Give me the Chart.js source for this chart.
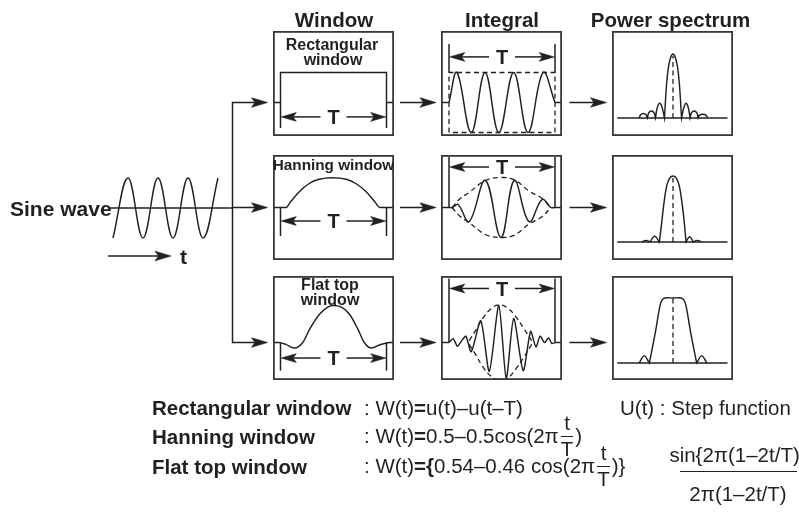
<!DOCTYPE html>
<html>
<head>
<meta charset="utf-8">
<title>Window functions</title>
<script src="https://cdn.jsdelivr.net/npm/chart.js@4.4.1/dist/chart.umd.min.js"></script>
<style>
  html, body { margin: 0; padding: 0; background: #ffffff; }
  #stage { position: relative; width: 799px; height: 521px; overflow: hidden; background: #ffffff;
           font-family: "Liberation Sans", Arial, Helvetica, sans-serif; color: #231f20; }
  #stage canvas { position: absolute; }
  .txt { position: absolute; white-space: nowrap; }
  .row { position: absolute; display: flex; align-items: center; white-space: nowrap; }
  .frac { display: inline-flex; flex-direction: column; align-items: center; margin: 0 2px; }
  .frac .bar { align-self: stretch; border-top: 1.3px solid #231f20; margin: 2px 0; }
</style>
</head>
<body>
<div id="stage"></div>
<script>
// ================= DATA =================
const columnTitles = ['Window', 'Integral', 'Power spectrum'];
const windowNames = [['Rectangular', 'window'], ['Hanning window'], ['Flat top', 'window']];
const inputName = 'Sine wave';
const timeName = 't';
const periodName = 'T';
const formulaNames = ['Rectangular window', 'Hanning window', 'Flat top window'];
const formulaRect = ': W(t)<b>=</b>u(t)–u(t–T)';
const stepNote = 'U(t) : Step function';
const formulaHann = [': W(t)<b>=</b>0.5–0.5cos(2π', ')'];
const formulaFlat = [': W(t)<b>={</b>0.54–0.46 cos(2π', ')}'];
const fracTime = ['t', 'T'];
const fracSinc = ['sin{2π(1–2t/T)}', '2π(1–2t/T)'];

// input sine wave: time in cycles, amplitude
const inputSineT = [0, 0.5, 1, 1.5, 2, 2.5, 3, 3.5];
const inputSineV = [-1, 1, -1, 1, -1, 1, -1, 1];

// window functions: t in units of T
const rectWinT = [-0.07, 0, 0, 1, 1, 1.07];
const rectWinV = [0, 0, 1, 1, 0, 0];
const hannWinT = [-0.07, 0.054, 0.095, 0.175, 0.27, 0.365, 0.49, 0.62, 0.71, 0.81, 0.89, 0.94, 1.07];
const hannWinV = [0, 0, 0.19, 0.52, 0.8, 0.94, 0.99, 0.94, 0.8, 0.52, 0.19, 0, 0];
const flatWinT = [-0.07, -0.02, 0.05, 0.13, 0.21, 0.275, 0.37, 0.45, 0.5, 0.57, 0.65, 0.73, 0.79, 0.86, 0.94, 1.03, 1.07];
const flatWinV = [0, 0, -0.05, -0.15, 0, 0.36, 0.77, 0.96, 1.0, 0.96, 0.77, 0.36, 0, -0.15, -0.06, 0, 0];

// windowed sine ("Integral") and envelopes
const rectIntT = [0, 0.075, 0.21, 0.34, 0.47, 0.61, 0.745, 0.887, 1];
const rectIntV = [0, 1, -1, 1, -1, 1, -1, 1, 0];
const rectEnvT = [0, 0, 1, 1, 0];
const rectEnvV = [-1, 1, 1, -1, -1];
const hannIntT = [0, 0.03, 0.085, 0.19, 0.343, 0.49, 0.616, 0.755, 0.88, 0.96, 1];
const hannIntV = [0, 0, 0.1, -0.47, 0.9, -1.0, 0.9, -0.47, 0.27, 0, 0];
const hannEnvT = [0.03, 0.1, 0.19, 0.343, 0.49, 0.616, 0.755, 0.88, 0.96];
const hannEnvUpper = [0, 0.28, 0.5, 0.9, 1.0, 0.92, 0.55, 0.3, 0];
const hannEnvLower = [0, -0.28, -0.5, -0.9, -1.0, -0.92, -0.55, -0.3, 0];
const flatIntT = [0, 0.04, 0.08, 0.12, 0.16, 0.21, 0.3, 0.38, 0.47, 0.54, 0.61, 0.7, 0.77, 0.82, 0.86, 0.9, 0.94, 0.97, 1];
const flatIntV = [0, 0.1, -0.1, 0.05, 0.17, -0.25, 0.59, -0.78, 1.0, -0.97, 0.65, -0.76, 0.3, -0.12, 0.17, 0.0, 0.12, -0.03, 0];
const flatEnvT = [0.19, 0.25, 0.32, 0.4, 0.47, 0.55, 0.63, 0.71, 0.78];
const flatEnvUpper = [0.05, 0.32, 0.66, 0.92, 1.02, 0.94, 0.7, 0.36, 0.05];
const flatEnvLower = [-0.05, -0.32, -0.66, -0.92, -1.0, -0.97, -0.72, -0.38, -0.05];

// power spectra: frequency in bins, relative power
const rectSpecF = [-3.75, -3.6, -3.3, -3.0, -2.85, -2.85, -2.7, -2.4, -2.1, -1.95, -1.95, -1.75, -1.475, -1.2, -0.95,
                   -0.95, -0.7, -0.5, -0.25, 0, 0.25, 0.5, 0.7, 0.95,
                   0.95, 1.2, 1.45, 1.7, 1.9, 1.9, 2.05, 2.35, 2.65, 2.8, 2.8, 2.95, 3.3, 3.65, 3.85];
const rectSpecP = [0, 0.05, 0.07, 0.05, 0, 0, 0.08, 0.11, 0.08, 0, 0, 0.16, 0.23, 0.16, 0,
                   0, 0.55, 0.8, 0.95, 1, 0.95, 0.8, 0.55, 0,
                   0, 0.16, 0.23, 0.16, 0, 0, 0.08, 0.11, 0.08, 0, 0, 0.045, 0.06, 0.045, 0];
const hannSpecF = [-3.45, -3.0, -2.55, -2.55, -2.05, -1.52, -1.52, -1.25, -1.05, -0.7, -0.35, 0, 0.35, 0.7, 1.05, 1.25, 1.45,
                   1.45, 1.85, 2.25, 2.25, 2.7, 3.15];
const hannSpecP = [0, 0.025, 0, 0, 0.09, 0, 0, 0.3, 0.54, 0.85, 0.97, 1, 0.97, 0.85, 0.54, 0.3, 0,
                   0, 0.08, 0, 0, 0.025, 0];
const flatSpecF = [-3.75, -3.2, -2.63, -2.63, -1.95, -1.45, -1.2, -0.9, 0, 0.9, 1.2, 1.45, 1.95, 2.63, 2.63, 3.2, 3.75];
const flatSpecP = [0, 0.11, 0, 0, 0.48, 0.88, 0.97, 1, 1, 1, 0.97, 0.88, 0.48, 0, 0, 0.11, 0];
const specMarkF = [0, 0];
const rectSpecMark = [0, 0.97];
const hannSpecMark = [0, 0.97];
const flatSpecMark = [0, 1.0];

// ================= LAYOUT / STYLE =================
const INK = '#231f20', BOX = '#383838';
const FONT = '"Liberation Sans", Arial, Helvetica, sans-serif';
const L = {
  panelW: 121, panelH: [105, 105, 104],
  colX: [273, 441, 612], rowY: [31, 155, 276],
  zeroY: [102.5, 207.5, 342.5], timeUnit: [30, 30, 37],
  baseY: [118, 242, 363], specUnit: [64, 66, 65],
  tOff: [7.5, 8], tW: 106, fOff: 61, fUnit: 9,
  winBracket: [[0, -0.85, -0.48], [0, -0.95, -0.45], [0, -0.76, -0.42]],
  intBracket: [[1.95, 1.0, 1.52], [1.68, 0, 1.35], [1.73, 0, 1.46]],
  specAxis: [-6.2, 6.05],
  sine: { x: 100, y: 170, w: 133, h: 76, x0: 113, cyc: 30, zero: 208, amp: 30 },
  trunkX: 232.5, inAxis: [110, 208],
  arrows: [[232.5, 267.5], [400, 436], [569.5, 606.5]],
  tArrow: [108, 171, 256]
};
const stage = document.getElementById('stage');

// ================= HELPERS =================
function pts(xs, ys) { return xs.map((x, i) => ({ x: x, y: ys[i] })); }
function lineDs(xs, ys, o) {
  return Object.assign({
    data: pts(xs, ys), showLine: true, pointRadius: 0, pointHoverRadius: 0,
    borderColor: INK, borderWidth: 1.45, fill: false, tension: 0.4, clip: 4
  }, o || {});
}
const DASH = { tension: 0.4, borderDash: [5, 3.5], borderWidth: 1.3 };

function seg(ctx, x1, y1, x2, y2) { ctx.beginPath(); ctx.moveTo(x1, y1); ctx.lineTo(x2, y2); ctx.stroke(); }
function arrow(ctx, x1, y1, x2, y2, len, half) {
  len = len || 15; half = half || 4.6;
  const a = Math.atan2(y2 - y1, x2 - x1), c = Math.cos(a), s = Math.sin(a);
  seg(ctx, x1, y1, x2 - c * len * 0.6, y2 - s * len * 0.6);
  ctx.beginPath();
  ctx.moveTo(x2, y2);
  ctx.lineTo(x2 - c * len + s * half, y2 - s * len - c * half);
  ctx.lineTo(x2 - c * len * 0.78, y2 - s * len * 0.78);
  ctx.lineTo(x2 - c * len - s * half, y2 - s * len + c * half);
  ctx.closePath(); ctx.fill();
  ctx.lineWidth = 0.6; ctx.stroke();
}

function makeChart(box, xr, yr, datasets, plugins, reverseY) {
  const c = document.createElement('canvas');
  c.width = box.w; c.height = box.h;
  c.style.left = box.x + 'px'; c.style.top = box.y + 'px';
  c.style.width = box.w + 'px'; c.style.height = box.h + 'px';
  stage.appendChild(c);
  return new Chart(c, {
    type: 'scatter',
    data: { datasets: datasets },
    options: {
      responsive: false, animation: false, events: [], devicePixelRatio: 1,
      layout: { padding: 0 },
      plugins: { legend: { display: false }, tooltip: { enabled: false }, title: { display: false } },
      scales: {
        x: { type: 'linear', min: xr[0], max: xr[1], display: false },
        y: { type: 'linear', min: yr[0], max: yr[1], display: false, reverse: !!reverseY }
      }
    },
    plugins: plugins || []
  });
}

function panelDeco(cfg) {
  return {
    id: 'panelDeco',
    afterDatasetsDraw(chart) {
      const ctx = chart.ctx, x = chart.scales.x, y = chart.scales.y;
      ctx.save();
      ctx.strokeStyle = INK; ctx.fillStyle = INK; ctx.lineWidth = 1.45;
      if (cfg.baseline) {
        const yb = y.getPixelForValue(0);
        seg(ctx, x.getPixelForValue(cfg.baseline[0]), yb, x.getPixelForValue(cfg.baseline[1]), yb);
      }
      if (cfg.stubs) {
        const yz = y.getPixelForValue(0);
        seg(ctx, 0, yz, x.getPixelForValue(0), yz);
        seg(ctx, x.getPixelForValue(1), yz, chart.width, yz);
      }
      if (cfg.bracket) {
        const b = cfg.bracket;
        const x0 = x.getPixelForValue(0), x1 = x.getPixelForValue(1);
        const y1 = y.getPixelForValue(b[0]), y2 = y.getPixelForValue(b[1]), ya = y.getPixelForValue(b[2]);
        ctx.lineWidth = 1.5;
        seg(ctx, x0, y1, x0, y2); seg(ctx, x1, y1, x1, y2);
        const xc = (x0 + x1) / 2;
        arrow(ctx, xc - 13, ya, x0 + 0.8, ya, 15, 4.4);
        ctx.lineWidth = 1.5;
        arrow(ctx, xc + 13, ya, x1 - 0.8, ya, 15, 4.4);
        ctx.font = 'bold 20px ' + FONT; ctx.textAlign = 'center'; ctx.textBaseline = 'alphabetic';
        ctx.fillText(periodName, xc, ya + 7.2);
      }
      ctx.strokeStyle = BOX; ctx.lineWidth = 1.8;
      ctx.strokeRect(0.9, 0.9, chart.width - 1.8, chart.height - 1.8);
      ctx.restore();
    }
  };
}

// ================= BACKGROUND FLOW =================
const flowPlugin = {
  id: 'flow',
  afterDraw(chart) {
    const ctx = chart.ctx, X = v => chart.scales.x.getPixelForValue(v), Y = v => chart.scales.y.getPixelForValue(v);
    ctx.save();
    ctx.strokeStyle = INK; ctx.fillStyle = INK; ctx.lineWidth = 1.5;
    seg(ctx, X(L.inAxis[0]), Y(L.inAxis[1]), X(L.trunkX), Y(L.inAxis[1]));
    seg(ctx, X(L.trunkX), Y(L.zeroY[0]) - 0.7, X(L.trunkX), Y(L.zeroY[2]) + 0.7);
    L.zeroY.forEach(ry => {
      L.arrows.forEach(a => { ctx.lineWidth = 1.5; arrow(ctx, X(a[0]), Y(ry), X(a[1]), Y(ry), 16, 4.8); });
    });
    ctx.lineWidth = 1.5;
    arrow(ctx, X(L.tArrow[0]), Y(L.tArrow[2]), X(L.tArrow[1]), Y(L.tArrow[2]), 16, 4.8);
    ctx.restore();
  }
};
makeChart({ x: 0, y: 0, w: 799, h: 521 }, [0, 799], [0, 521], [], [flowPlugin], true);

// ================= PANELS =================
function timeX(col) { return [-L.tOff[col] / L.tW, (L.panelW - L.tOff[col]) / L.tW]; }
function timeY(r) { return [-(L.rowY[r] + L.panelH[r] - L.zeroY[r]) / L.timeUnit[r], (L.zeroY[r] - L.rowY[r]) / L.timeUnit[r]]; }
function specX() { return [-L.fOff / L.fUnit, (L.panelW - L.fOff) / L.fUnit]; }
function specY(r) { return [-(L.rowY[r] + L.panelH[r] - L.baseY[r]) / L.specUnit[r], (L.baseY[r] - L.rowY[r]) / L.specUnit[r]]; }
function boxOf(col, r) { return { x: L.colX[col], y: L.rowY[r], w: L.panelW, h: L.panelH[r] }; }

const windowSets = [
  [lineDs(rectWinT, rectWinV, { tension: 0 })],
  [lineDs(hannWinT, hannWinV, { cubicInterpolationMode: 'monotone' })],
  [lineDs(flatWinT, flatWinV, { cubicInterpolationMode: 'monotone' })]
];
const integralSets = [
  [lineDs(rectIntT, rectIntV), lineDs(rectEnvT, rectEnvV, Object.assign({}, DASH, { tension: 0 }))],
  [lineDs(hannIntT, hannIntV), lineDs(hannEnvT, hannEnvUpper, DASH), lineDs(hannEnvT, hannEnvLower, DASH)],
  [lineDs(flatIntT, flatIntV, { tension: 0.25 }), lineDs(flatEnvT, flatEnvUpper, DASH), lineDs(flatEnvT, flatEnvLower, DASH)]
];
const spectrumSets = [
  [lineDs(rectSpecF, rectSpecP), lineDs(specMarkF, rectSpecMark, Object.assign({}, DASH, { tension: 0 }))],
  [lineDs(hannSpecF, hannSpecP), lineDs(specMarkF, hannSpecMark, Object.assign({}, DASH, { tension: 0 }))],
  [lineDs(flatSpecF, flatSpecP), lineDs(specMarkF, flatSpecMark, Object.assign({}, DASH, { tension: 0 }))]
];

for (let r = 0; r < 3; r++) {
  makeChart(boxOf(0, r), timeX(0), timeY(r), windowSets[r], [panelDeco({ bracket: L.winBracket[r] })]);
  makeChart(boxOf(1, r), timeX(1), timeY(r), integralSets[r], [panelDeco({ bracket: L.intBracket[r], stubs: true })]);
  makeChart(boxOf(2, r), specX(), specY(r), spectrumSets[r], [panelDeco({ baseline: L.specAxis })]);
}

// input sine
const S = L.sine;
makeChart({ x: S.x, y: S.y, w: S.w, h: S.h },
  [(S.x - S.x0) / S.cyc, (S.x + S.w - S.x0) / S.cyc],
  [-(S.y + S.h - S.zero) / S.amp, (S.zero - S.y) / S.amp],
  [lineDs(inputSineT, inputSineV)], []);

// ================= TEXT =================
function txt(html, x, yc, size, bold, align) {
  const d = document.createElement('div');
  d.className = 'txt';
  d.innerHTML = html;
  d.style.fontSize = size + 'px';
  d.style.lineHeight = size + 'px';
  d.style.fontWeight = bold ? 'bold' : 'normal';
  d.style.top = (yc - size / 2) + 'px';
  d.style.left = x + 'px';
  if (align === 'center') d.style.transform = 'translateX(-50%)';
  stage.appendChild(d);
  return d;
}
function fracEl(num, den, size) {
  const f = document.createElement('span');
  f.className = 'frac';
  f.style.fontSize = size + 'px';
  f.innerHTML = '<span style="line-height:' + size + 'px">' + num + '</span><span class="bar"></span><span style="line-height:' + size + 'px">' + den + '</span>';
  return f;
}
function rowEl(x, yc, size) {
  const d = document.createElement('div');
  d.className = 'row';
  d.style.left = x + 'px'; d.style.top = (yc - 30) + 'px'; d.style.height = '60px';
  d.style.fontSize = size + 'px'; d.style.lineHeight = size + 'px';
  stage.appendChild(d);
  return d;
}
function spanEl(html) { const s = document.createElement('span'); s.innerHTML = html; return s; }

const titleX = [334, 502, 670.5];
columnTitles.forEach((t, i) => txt(t, titleX[i], 20, 20.5, true, 'center'));

txt(windowNames[0][0], 332, 45, 16, true, 'center');
txt(windowNames[0][1], 333, 60, 16, true, 'center');
txt(windowNames[1][0], 333.5, 165, 15.3, true, 'center');
txt(windowNames[2][0], 330, 285, 16, true, 'center');
txt(windowNames[2][1], 330, 300, 16, true, 'center');

txt(inputName, 10, 208, 21, true);
txt(timeName, 180, 256.5, 21, true);

const FS = 20.5;
const rowYc = [408, 437, 467];
formulaNames.forEach((n, i) => txt(n, 152, rowYc[i], FS, true));
txt(formulaRect, 364, rowYc[0], FS, false);
txt(stepNote, 620, rowYc[0], FS, false);

const r2 = rowEl(364, rowYc[1] - 1, FS);
r2.appendChild(spanEl(formulaHann[0]));
r2.appendChild(fracEl(fracTime[0], fracTime[1], FS));
r2.appendChild(spanEl(formulaHann[1]));

const r3 = rowEl(364, rowYc[2] - 1, FS);
r3.appendChild(spanEl(formulaFlat[0]));
r3.appendChild(fracEl(fracTime[0], fracTime[1], FS));
r3.appendChild(spanEl(formulaFlat[1]));

txt(fracSinc[0], 738, 455, FS, false, 'center');
const bar = document.createElement('div');
bar.style.cssText = 'position:absolute;left:680px;top:471px;width:117px;border-top:1.3px solid #231f20;';
stage.appendChild(bar);
txt(fracSinc[1], 738, 494, FS, false, 'center');
</script>
</body>
</html>
